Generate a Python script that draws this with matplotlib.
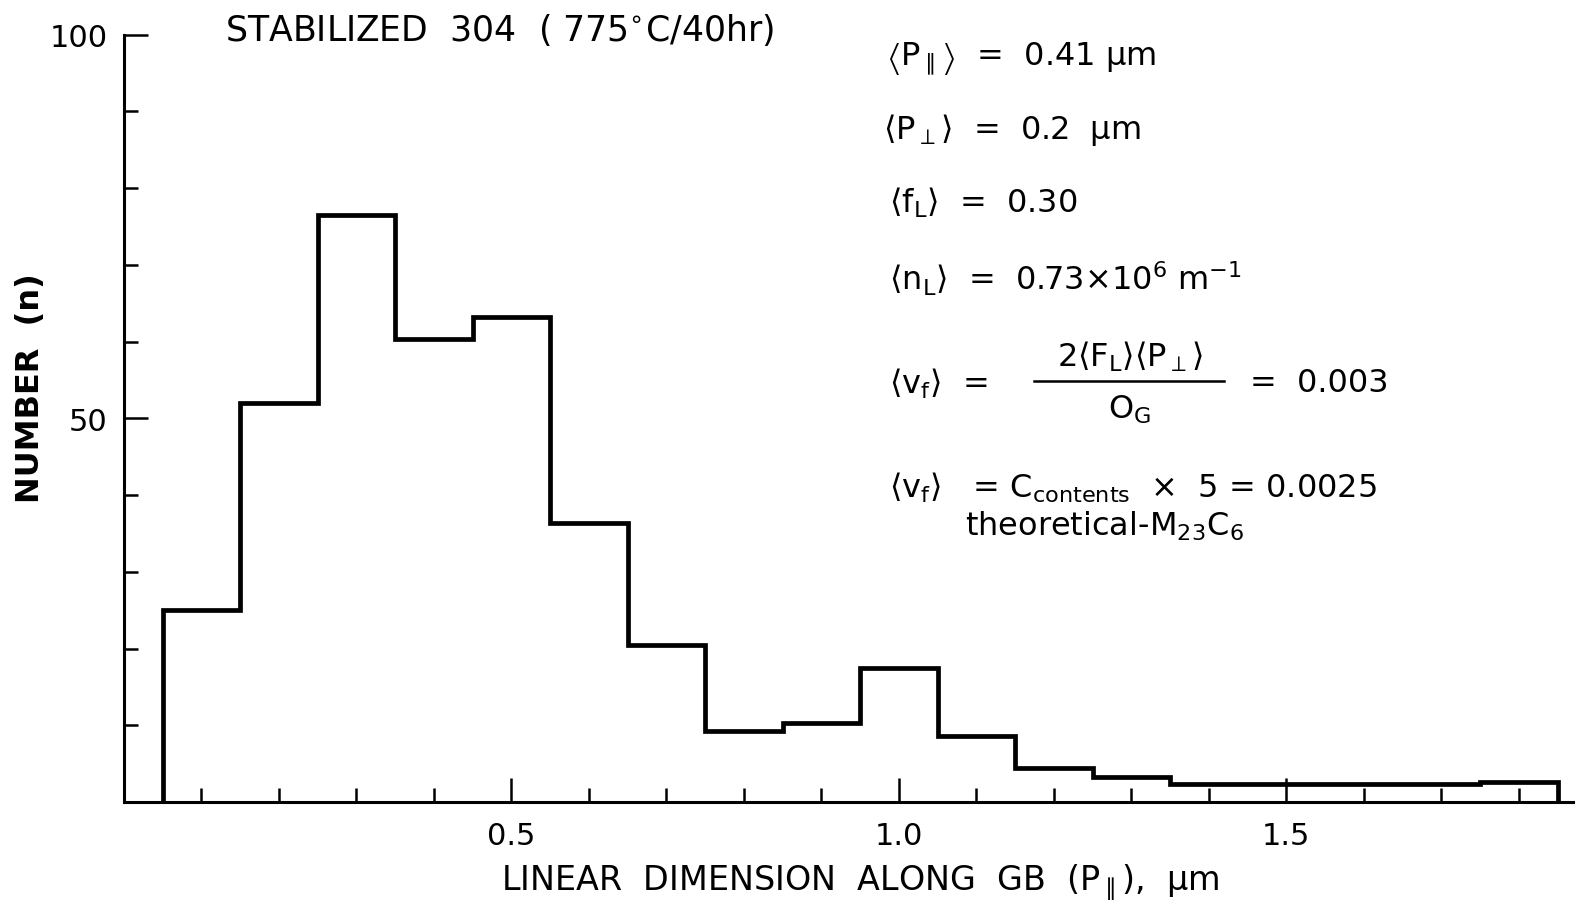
import numpy as np
import matplotlib
matplotlib.use("Agg")
import matplotlib.pyplot as plt
from matplotlib.lines import Line2D

# Histogram data
bin_centers = [0.1, 0.2, 0.3, 0.4, 0.5, 0.6, 0.7, 0.8, 0.9, 1.0,
               1.1, 1.2, 1.3, 1.4, 1.5, 1.6, 1.7, 1.8]
counts = [25, 52, 76.5, 60.3, 63.2, 36.4, 20.4, 9.3, 10.3, 17.5,
          8.6, 4.4, 3.3, 2.4, 2.4, 2.4, 2.4, 2.6]
bin_width = 0.1

x_major = [0.5, 1.0, 1.5]
x_major_labels = ["0.5", "1.0", "1.5"]
y_major = [50, 100]
y_major_labels = ["50", "100"]

plt.rcParams["font.family"] = "DejaVu Sans"
plt.rcParams["mathtext.fontset"] = "dejavusans"
plt.rcParams["mathtext.default"] = "regular"

W, H = 1591, 912
fig = plt.figure(figsize=(W / 100, H / 100), dpi=100)

# helpers for placing text in pixel positions
def fx(x):
    return x / W

def fy(y):
    return 1 - y / H

ax = fig.add_axes([fx(124), fy(803), fx(1573) - fx(124), fy(35.5) - fy(803)])

centers = np.array(bin_centers)
edges = np.append(centers - bin_width / 2, centers[-1] + bin_width / 2)
ax.stairs(counts, edges, baseline=0, color="black", linewidth=3.4)

ax.set_xlim(0, 1.87)
ax.set_ylim(0, 100)
for s in ["top", "right"]:
    ax.spines[s].set_visible(False)
for s in ["left", "bottom"]:
    ax.spines[s].set_linewidth(2.2)

ax.set_xticks(x_major)
ax.set_xticklabels(x_major_labels)
ax.set_xticks([t for t in np.round(np.arange(0.1, 1.81, 0.1), 2) if t not in x_major], minor=True)
ax.set_yticks(y_major)
ax.set_yticklabels(y_major_labels)
ax.set_yticks([t for t in range(10, 100, 10) if t not in y_major], minor=True)

ax.tick_params(which="both", direction="in", width=1.8, labelsize=22, color="black")
ax.tick_params(which="major", length=17)
ax.tick_params(which="minor", length=10)
ax.tick_params(axis="x", pad=14)
ax.tick_params(axis="y", pad=12)

# axis labels
fig.text(fx(31), fy(388), "NUMBER  (n)", rotation=90, ha="center", va="center",
         fontsize=23, fontweight="bold")
fig.text(fx(860), fy(883), r"LINEAR  DIMENSION  ALONG  GB  (P$_{\parallel}$),  $\mu$m",
         ha="center", va="center", fontsize=24)

# title inside
fig.text(fx(225), fy(30), r"STABILIZED  304  ( 775$^{\circ}$C/40hr)",
         ha="left", va="center", fontsize=25)

# annotations
fs = 23
fig.text(fx(886), fy(59), r"$\left\langle P_{\parallel}\right\rangle$  =  0.41 $\mu$m", fontsize=fs, va="center")
fig.text(fx(883), fy(130), r"$\left\langle P_{\perp}\right\rangle$  =  0.2  $\mu$m", fontsize=fs, va="center")
fig.text(fx(889), fy(203), r"$\left\langle f_{L}\right\rangle$  =  0.30", fontsize=fs, va="center")
fig.text(fx(889), fy(279), r"$\left\langle n_{L}\right\rangle$  =  0.73$\times$10$^{6}$ m$^{-1}$", fontsize=fs, va="center")

fig.text(fx(889), fy(384), r"$\left\langle v_{f}\right\rangle$  =", fontsize=fs, va="center")
fig.text(fx(1130), fy(357), r"2$\left\langle F_{L}\right\rangle\left\langle P_{\perp}\right\rangle$", fontsize=fs,
         ha="center", va="center")
fig.add_artist(Line2D([fx(1034), fx(1224)], [fy(382), fy(382)], color="black", linewidth=1.8))
fig.text(fx(1130), fy(410), r"O$_{G}$", fontsize=fs, ha="center", va="center")
fig.text(fx(1250), fy(384), r"=  0.003", fontsize=fs, va="center")

fig.text(fx(889), fy(488), r"$\left\langle v_{f}\right\rangle$   = C$_{contents}$  $\times$  5 = 0.0025",
         fontsize=fs, va="center")
fig.text(fx(965), fy(526), r"theoretical-M$_{23}$C$_{6}$", fontsize=fs, va="center")

fig.savefig("out.png", dpi=100)
